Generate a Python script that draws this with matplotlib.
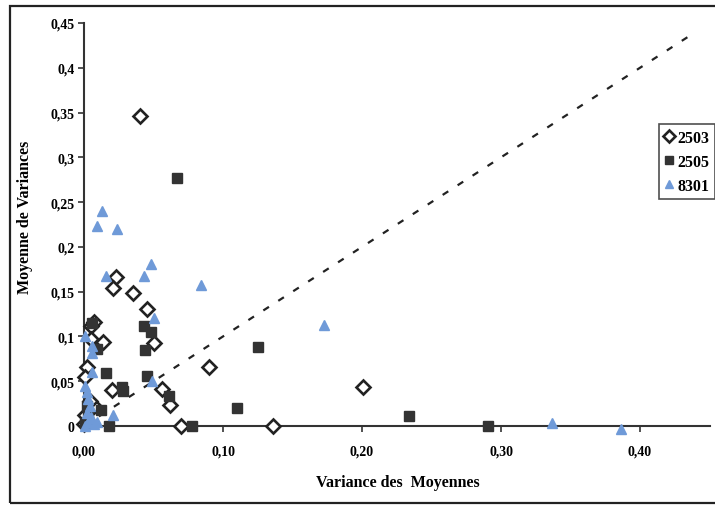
import matplotlib
matplotlib.use("Agg")
import matplotlib.pyplot as plt
from matplotlib.patches import Rectangle

# ---- data ----
s2503_x = [0.040, 0.023, 0.021, 0.035, 0.045, 0.007, 0.005, 0.005, 0.014, 0.050,
           0.002, 0.001, 0.020, 0.056, 0.062, 0.090, 0.070, 0.136, 0.201, 0.007,
           0.001, 0.000, 0.004]
s2503_y = [0.346, 0.166, 0.154, 0.148, 0.131, 0.116, 0.112, 0.097, 0.094, 0.093,
           0.066, 0.055, 0.040, 0.041, 0.024, 0.066, 0.000, 0.000, 0.044, 0.022,
           0.012, 0.002, 0.028]

s2505_x = [0.067, 0.043, 0.048, 0.044, 0.045, 0.016, 0.009, 0.006, 0.028, 0.061,
           0.012, 0.018, 0.078, 0.110, 0.125, 0.234, 0.291, 0.002, 0.003, 0.001,
           0.027]
s2505_y = [0.277, 0.112, 0.105, 0.085, 0.056, 0.059, 0.086, 0.115, 0.039, 0.034,
           0.018, 0.000, 0.000, 0.020, 0.088, 0.011, 0.000, 0.022, 0.011, 0.003,
           0.043]

s8301_x = [0.013, 0.009, 0.024, 0.048, 0.016, 0.043, 0.084, 0.050, 0.173, 0.001,
           0.006, 0.006, 0.006, 0.049, 0.021, 0.001, 0.002, 0.003, 0.004, 0.002,
           0.005, 0.003, 0.007, 0.009, 0.337, 0.386, 0.001]
s8301_y = [0.240, 0.223, 0.220, 0.181, 0.168, 0.168, 0.157, 0.121, 0.113, 0.101,
           0.089, 0.082, 0.060, 0.050, 0.012, 0.045, 0.038, 0.030, 0.022, 0.015,
           0.010, 0.005, 0.002, 0.004, 0.003, -0.003, 0.000]

diag = [0.0, 0.44]

x_ticks = [0.0, 0.1, 0.2, 0.3, 0.4]
x_tick_labels = ["0,00", "0,10", "0,20", "0,30", "0,40"]
y_ticks = [0, 0.05, 0.1, 0.15, 0.2, 0.25, 0.3, 0.35, 0.4, 0.45]
y_tick_labels = ["0", "0,05", "0,1", "0,15", "0,2", "0,25", "0,3", "0,35", "0,4", "0,45"]

series_labels = ["2503", "2505", "8301"]

# ---- figure ----
plt.rcParams['font.family'] = ['Liberation Serif', 'DejaVu Serif']
fig = plt.figure(figsize=(7.15, 5.06), dpi=100)
ax = fig.add_axes([84/715, 1-427/506, (709.5-84)/715, (427-24)/506])

ax.plot(diag, diag, linestyle=(0, (3, 5)), color='#222222', linewidth=1.6, zorder=1)

ax.plot(s2503_x, s2503_y, linestyle='none', marker='D', markersize=7,
        markerfacecolor='white', markeredgecolor='#222222', markeredgewidth=1.9,
        clip_on=False, zorder=3, label=series_labels[0])
ax.plot(s2505_x, s2505_y, linestyle='none', marker='s', markersize=7,
        color='#333333', clip_on=False, zorder=3, label=series_labels[1])
ax.plot(s8301_x, s8301_y, linestyle='none', marker='^', markersize=7,
        color='#6f9ad8', clip_on=False, zorder=4, label=series_labels[2])

ax.set_xlim(0, 0.45)
ax.set_ylim(0, 0.45)

for side in ['top', 'right']:
    ax.spines[side].set_visible(False)
for side in ['left', 'bottom']:
    ax.spines[side].set_linewidth(1.5)
    ax.spines[side].set_color('#333333')

ax.set_xticks(x_ticks)
ax.set_xticklabels(x_tick_labels, fontsize=10, fontweight='bold')
ax.set_yticks(y_ticks)
ax.set_yticklabels(y_tick_labels, fontsize=10, fontweight='bold')
ax.tick_params(axis='both', direction='out', length=4, width=1.2, color='#333333')
ax.tick_params(axis='y', pad=3)
ax.tick_params(axis='x', pad=9)

ax.set_xlabel("Variance des  Moyennes", fontsize=11.5, fontweight='bold')
ax.xaxis.set_label_coords((398-84)/625.5, (427-475)/403)
ax.set_ylabel("Moyenne de Variances", fontsize=11.5, fontweight='bold')
ax.yaxis.set_label_coords((33-84)/625.5, 0.52)

leg = fig.legend(loc='upper left', bbox_to_anchor=(659/715, 1-125/506),
                 prop={'weight': 'bold', 'size': 11.5}, frameon=True, fancybox=False,
                 handlelength=0.5, handletextpad=0.3, borderpad=0.35,
                 labelspacing=0.5, borderaxespad=0, markerscale=0.85)
leg.get_frame().set_edgecolor('#222222')
leg.get_frame().set_linewidth(1.2)

# outer frame of the chart
fig.patches.append(Rectangle((10/715, 2/506), 1.2, 1-9/506, transform=fig.transFigure,
                             fill=False, edgecolor='#222222', linewidth=1.6, clip_on=False))

fig.savefig("out.png", dpi=100)
